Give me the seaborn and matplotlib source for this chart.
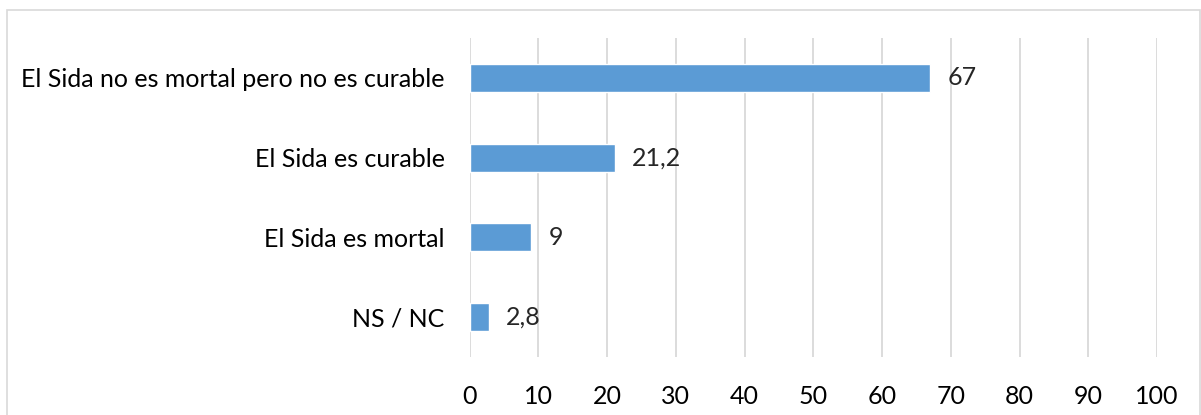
import matplotlib
matplotlib.use('Agg')
import matplotlib.pyplot as plt
import seaborn as sns
import pandas as pd
from matplotlib.patches import Rectangle

# Data
categorias = ['El Sida no es mortal pero no es curable', 'El Sida es curable',
              'El Sida es mortal', 'NS / NC']
valores = [67, 21.2, 9, 2.8]
etiquetas = ['67', '21,2', '9', '2,8']
ticks_x = [0, 10, 20, 30, 40, 50, 60, 70, 80, 90, 100]

df = pd.DataFrame({'categoria': categorias, 'valor': valores})

sns.set_style('white')
plt.rcParams['font.family'] = ['Lato', 'DejaVu Sans']

fig = plt.figure(figsize=(12.01, 4.15), dpi=100)
ax = fig.add_axes([0.391, 0.1398, 0.5724, 0.7686])

sns.barplot(data=df, x='valor', y='categoria', color='#5B9BD5', width=0.35,
            saturation=1, ax=ax, zorder=3)

ax.set_xlim(0, 100)
ax.set_xticks(ticks_x)
ax.set_xticklabels([str(t) for t in ticks_x])
ax.grid(axis='x', color='#D9D9D9', linewidth=1.3, zorder=0)
ax.set_xlabel('')
ax.set_ylabel('')
for s in ax.spines.values():
    s.set_visible(False)
ax.tick_params(axis='both', length=0, labelsize=18, colors='black')
ax.tick_params(axis='y', pad=18)
ax.tick_params(axis='x', pad=20)

for i, (v, lab) in enumerate(zip(valores, etiquetas)):
    ax.annotate(lab, (v, i), xytext=(17, 0), textcoords='offset pixels',
                va='center', ha='left', fontsize=18)

fig.patches.append(Rectangle((0.006, -0.05), 0.993, 1.026, transform=fig.transFigure,
                             fill=False, edgecolor='#D9D9D9', linewidth=1.2))

fig.savefig('out.png', dpi=100)
